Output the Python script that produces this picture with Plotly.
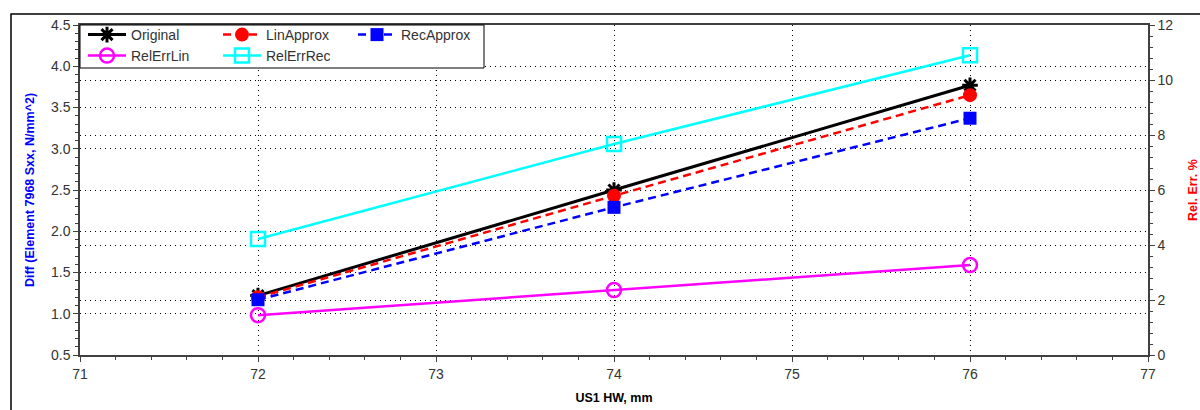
import plotly.graph_objects as go

x_vals = [72, 74, 76]
original = [1.22, 2.50, 3.77]
lin_approx = [1.20, 2.43, 3.65]
rec_approx = [1.17, 2.29, 3.37]
rel_err_lin = [1.45, 2.36, 3.27]
rel_err_rec = [4.22, 7.67, 10.90]

FONT = "Liberation Sans, Arial, sans-serif"
AX = "#404040"

fig = go.Figure()
fig.add_trace(go.Scatter(x=x_vals, y=original, name="Original", mode="lines+markers",
                         line=dict(color="black", width=3),
                         marker=dict(symbol="asterisk-open", size=13, line=dict(color="black", width=3)),
                         legend="legend"))
fig.add_trace(go.Scatter(x=x_vals, y=lin_approx, name="LinApprox", mode="lines+markers",
                         line=dict(color="red", width=2.5, dash="8px,5px"),
                         marker=dict(symbol="circle", size=14, color="red"),
                         legend="legend"))
fig.add_trace(go.Scatter(x=x_vals, y=rec_approx, name="RecApprox", mode="lines+markers",
                         line=dict(color="blue", width=2.5, dash="8px,5px"),
                         marker=dict(symbol="square", size=13, color="blue"),
                         legend="legend"))
fig.add_trace(go.Scatter(x=x_vals, y=rel_err_lin, name="RelErrLin", mode="lines+markers",
                         line=dict(color="magenta", width=2.5),
                         marker=dict(symbol="circle-open", size=14, color="magenta", line=dict(width=2.5)),
                         yaxis="y2", legend="legend2"))
fig.add_trace(go.Scatter(x=x_vals, y=rel_err_rec, name="RelErrRec", mode="lines+markers",
                         line=dict(color="cyan", width=2.5),
                         marker=dict(symbol="square-open", size=14, color="cyan", line=dict(width=2.5)),
                         yaxis="y2", legend="legend2"))

L, R, T, B = 80, 52, 25, 55
W, H = 1200, 410
pw, ph = W - L - R, H - T - B

def px(xp):
    return (xp - L) / pw

def py(yp):
    return (H - B - yp) / ph

grid = dict(showgrid=True, gridcolor="black", gridwidth=1, griddash="1px,4px")
TF = dict(size=14, color="#333333")

fig.update_layout(
    width=W, height=H,
    margin=dict(l=L, r=R, t=T, b=B, autoexpand=False),
    paper_bgcolor="white", plot_bgcolor="white",
    font=dict(family=FONT, size=14, color="#333333"),
    xaxis=dict(range=[71, 77], dtick=1, tick0=71, ticks="outside", ticklen=5, tickcolor=AX,
               showline=True, linecolor=AX, linewidth=1.5, mirror=True, zeroline=False,
               automargin=False, tickfont=TF,
               minor=dict(dtick=0.2, ticks="outside", ticklen=3, tickcolor=AX, showgrid=False),
               title=dict(text="<b>US1 HW, mm</b>", font=dict(size=12.5, color="black"), standoff=13),
               **grid),
    yaxis=dict(range=[0.5, 4.5], dtick=0.5, tick0=0.5, tickformat=".1f", ticks="outside", ticklen=5,
               tickcolor=AX, showline=True, linecolor=AX, linewidth=1.5, zeroline=False,
               automargin=False, tickfont=TF,
               minor=dict(dtick=0.1, ticks="outside", ticklen=3, tickcolor=AX, showgrid=False),
               title=dict(text="<b>Diff (Element 7968 Sxx, N/mm^2)</b>", font=dict(size=12.5, color="blue"),
                          standoff=14),
               **grid),
    yaxis2=dict(range=[0, 12], dtick=2, tick0=0, overlaying="y", side="right", ticks="outside",
                ticklen=5, tickcolor=AX, showline=True, linecolor=AX, linewidth=1.5, zeroline=False,
                automargin=False, tickfont=TF,
                minor=dict(dtick=0.4, ticks="outside", ticklen=3, tickcolor=AX, showgrid=False),
                title=dict(text="<b>Rel. Err. %</b>", font=dict(size=12.5, color="red"), standoff=16),
                **grid),
    legend=dict(orientation="h", x=px(83), y=py(19), xanchor="left", yanchor="top",
                bgcolor="rgba(0,0,0,0)", entrywidth=82, entrywidthmode="pixels", itemwidth=38,
                font=dict(size=14, color="#333333"), itemclick=False),
    legend2=dict(orientation="h", x=px(83), y=py(40), xanchor="left", yanchor="top",
                 bgcolor="rgba(0,0,0,0)", entrywidth=82, entrywidthmode="pixels", itemwidth=38,
                 font=dict(size=14, color="#333333"), itemclick=False),
    shapes=[
        dict(type="rect", xref="paper", yref="paper", x0=px(80), x1=px(484), y0=py(68), y1=py(25),
             fillcolor="white", line=dict(color="black", width=1), layer="above"),
        dict(type="rect", xref="paper", yref="paper", x0=px(11), x1=px(1215), y0=py(430), y1=py(14),
             fillcolor="rgba(0,0,0,0)", line=dict(color="black", width=1.5), layer="above"),
    ],
)

fig.write_html("out.html", config={"displayModeBar": False},
               post_script="document.body.style.margin='0';document.body.style.overflow='hidden';")
